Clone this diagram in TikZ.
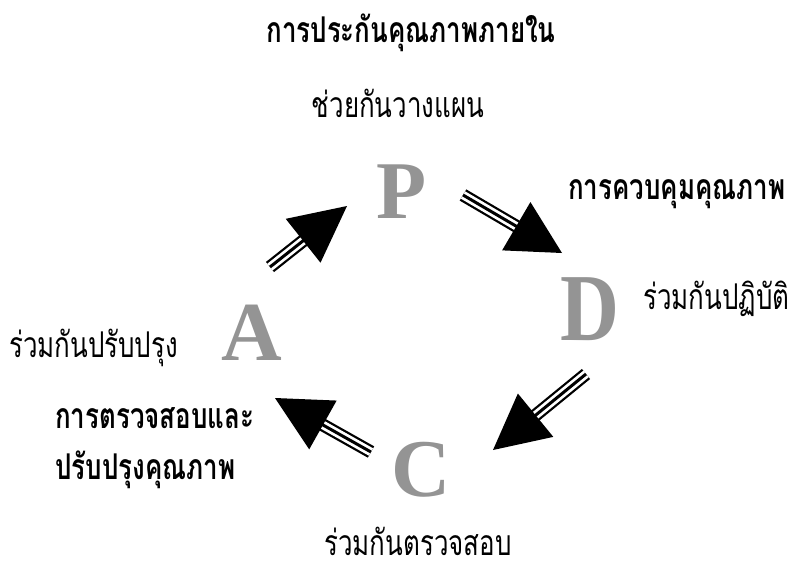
\documentclass[tikz,border=0pt]{standalone}
\usepackage{fontspec}
\newfontfamily\thai[Script=Thai,FakeStretch=0.73]{Loma}
\newfontfamily\letterfont{Liberation Serif}
\usetikzlibrary{calc}
\newcommand\fatarrow[4]{%
  \coordinate (#1-hb) at ($(#2)!#3pt!(#1)$);
  \coordinate (#1-ov) at ($(#2)!\the\numexpr#3-2\relax pt!(#1)$);
  \draw[line width=13pt] (#1) -- (#1-ov);
  \draw[line width=8.5pt,white] (#1) -- (#1-ov);
  \draw[line width=3pt] (#1) -- (#1-ov);
  \fill ($(#1-hb)!#4pt!90:(#2)$) -- (#2) -- ($(#1-hb)!#4pt!-90:(#2)$) -- cycle;
}
\tikzset{
  thaireg/.style={font=\thai\fontsize{35.5}{40}\selectfont, inner sep=0pt, anchor=base},
  thaibold/.style={font=\thai\bfseries\fontsize{35.5}{40}\selectfont, inner sep=0pt, anchor=base},
  letter/.style={font=\letterfont\bfseries\fontsize{#1}{#1}\selectfont, inner sep=0pt, text=black!42}
}
\begin{document}
\begin{tikzpicture}[x=1pt,y=-1pt]
\useasboundingbox (0,0) rectangle (806,581);
% texts
\node[thaibold] (title) at (411,42) {การประกันคุณภาพภายใน};
\node[thaireg] (plan) at (398,117) {ช่วยกันวางแผน};
\node[thaibold, anchor=base west] (ctrl) at (568,199) {การควบคุมคุณภาพ};
\node[thaireg, anchor=base west] (do) at (643,309) {ร่วมกันปฏิบัติ};
\node[thaireg, anchor=base west] (act) at (9,357) {ร่วมกันปรับปรุง};
\node[thaibold, anchor=base west] (chk1) at (55,428) {การตรวจสอบและ};
\node[thaibold, anchor=base west] (chk2) at (55,479) {ปรับปรุงคุณภาพ};
\node[thaireg] (check) at (418,555) {ร่วมกันตรวจสอบ};
% letters
\node[letter=82] (P) at (402,192) {P};
\node[letter=96, xscale=0.85] (D) at (590,309) {D};
\node[letter=84] (A) at (252,333) {A};
\node[letter=82] (C) at (421,470) {C};
% arrows
\coordinate (a1) at (270,267); \coordinate (a1t) at (347,206);
\coordinate (a2) at (463,195); \coordinate (a2t) at (562,253);
\coordinate (a3) at (586,374); \coordinate (a3t) at (493,450);
\coordinate (a4) at (371,452); \coordinate (a4t) at (275,398);
\fatarrow{a1}{a1t}{56}{28}
\fatarrow{a2}{a2t}{53}{28}
\fatarrow{a3}{a3t}{55}{28}
\fatarrow{a4}{a4t}{55}{28}
\end{tikzpicture}
\end{document}
